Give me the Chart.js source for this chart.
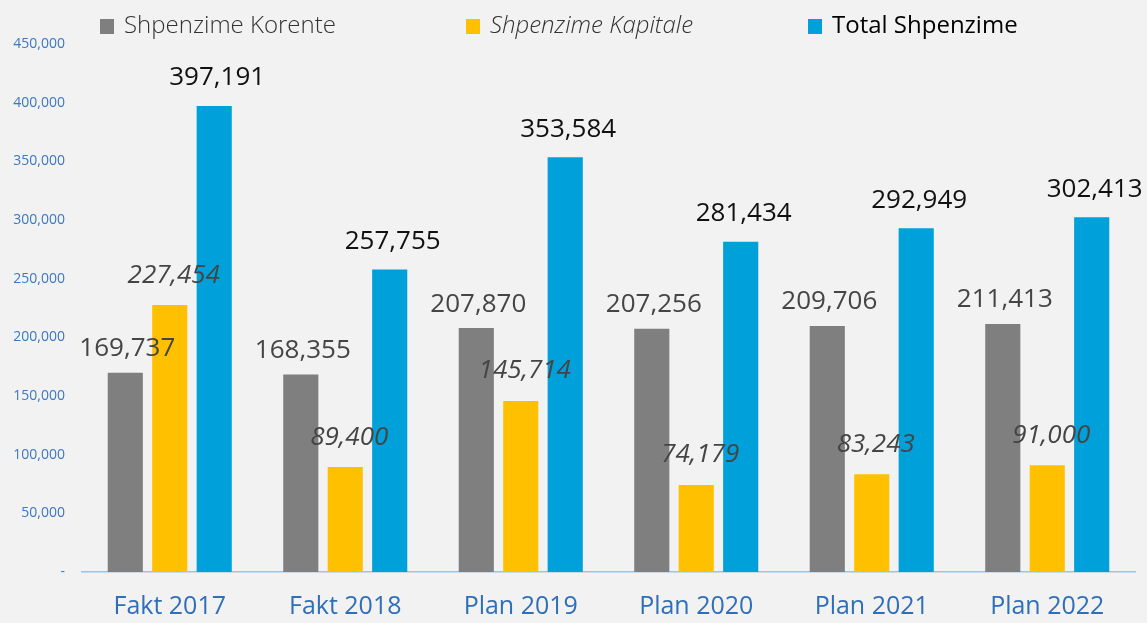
<!DOCTYPE html>
<html><head><meta charset="utf-8">
<script src="https://cdn.jsdelivr.net/npm/chart.js@4"></script>
<style>html,body{margin:0;padding:0;background:#f2f2f2;}#wrap{width:1147px;height:623px;position:relative;}</style>
</head><body><div id="wrap"><canvas id="c" width="1147" height="623"></canvas></div>
<script>
const categories = ["Fakt 2017","Fakt 2018","Plan 2019","Plan 2020","Plan 2021","Plan 2022"];
const seriesNames = ["Shpenzime Korente","Shpenzime Kapitale","Total Shpenzime"];
const korente = [169737,168355,207870,207256,209706,211413];
const kapitale = [227454,89400,145714,74179,83243,91000];
const total = [397191,257755,353584,281434,292949,302413];
const yTicks = [0,50000,100000,150000,200000,250000,300000,350000,400000,450000];

const colors = ["#7f7f7f","#ffc000","#00a0da"];
const FONT = "'Open Sans', sans-serif";
const fmt = v => v.toLocaleString('en-US');

const labelPlugin = {
  id:'labels',
  afterDatasetsDraw(chart){
    const ctx = chart.ctx;
    const styles = [
      {font:"normal 400 26px "+FONT, color:"#454545", dy:24, dx:2},
      {font:"italic 400 26px "+FONT, color:"#454545", dy:30, dx:4},
      {font:"normal 400 26px "+FONT, color:"#111111", dy:28, dx:3}
    ];
    chart.data.datasets.forEach((ds,i)=>{
      const meta = chart.getDatasetMeta(i);
      const st = styles[i];
      meta.data.forEach((bar,j)=>{
        ctx.save();
        ctx.font = st.font; ctx.fillStyle = st.color;
        ctx.textAlign='center'; ctx.textBaseline='middle';
        ctx.fillText(fmt(ds.data[j]), bar.x+st.dx, bar.y-st.dy);
        ctx.restore();
      });
    });
  }
};

const legendPlugin = {
  id:'customLegend',
  afterDraw(chart){
    const ctx = chart.ctx;
    const items = [
      {x:100, font:"normal 300 24px "+FONT, color:"#333333"},
      {x:466, font:"italic 300 24px "+FONT, color:"#333333"},
      {x:808, font:"normal 400 24px "+FONT, color:"#000000"}
    ];
    items.forEach((it,i)=>{
      ctx.save();
      ctx.fillStyle = colors[i];
      ctx.fillRect(it.x, 19, 14, 15);
      ctx.font = it.font; ctx.fillStyle = it.color;
      ctx.textAlign='left'; ctx.textBaseline='middle';
      ctx.fillText(seriesNames[i], it.x+24, 26);
      ctx.restore();
    });
  }
};

new Chart(document.getElementById('c'), {
  type:'bar',
  data:{
    labels:categories,
    datasets:[
      {label:seriesNames[0], data:korente, backgroundColor:colors[0]},
      {label:seriesNames[1], data:kapitale, backgroundColor:colors[1]},
      {label:seriesNames[2], data:total, backgroundColor:colors[2]}
    ]
  },
  options:{
    responsive:false, animation:false,
    devicePixelRatio:1,
    layout:{padding:{top:44,right:12,left:0,bottom:0}},
    datasets:{bar:{categoryPercentage:0.76,barPercentage:0.79}},
    plugins:{legend:{display:false},tooltip:{enabled:false}},
    scales:{
      x:{
        grid:{display:false,drawTicks:false},
        border:{display:true,color:"#9dc3e6",width:1.5},
        ticks:{color:"#2f6fba",font:{family:FONT,size:25},padding:20},
        afterFit(s){s.height=51;}
      },
      y:{
        min:0,max:450000,
        afterBuildTicks(s){s.ticks = yTicks.map(v=>({value:v}));},
        grid:{display:false,drawTicks:false},
        border:{display:false},
        ticks:{color:"#3a78c3",font:{family:FONT,size:14},padding:17,
          callback:v=> v===0 ? "-" : fmt(v)},
        afterFit(s){s.width=82;}
      }
    }
  },
  plugins:[labelPlugin,legendPlugin]
});
</script></body></html>
